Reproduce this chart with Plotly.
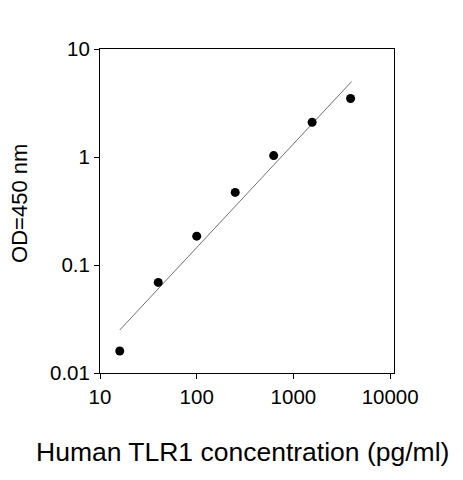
import plotly.graph_objects as go

# standard curve points
conc = [16, 40, 100, 250, 625, 1560, 3900]
od = [0.016, 0.069, 0.185, 0.47, 1.03, 2.1, 3.48]

# fitted line end points (log-log)
fit_x = [16, 4000]
fit_y = [0.025, 5.0]

x_ticks = [10, 100, 1000, 10000]
y_ticks = [0.01, 0.1, 1, 10]

fig = go.Figure()
fig.add_trace(go.Scatter(
	x=fit_x, y=fit_y, mode='lines',
	line={'color': '#707070', 'width': 1},
	showlegend=False))
fig.add_trace(go.Scatter(
	x=conc, y=od, mode='markers',
	marker={'color': 'black', 'size': 9},
	showlegend=False))

axis_font = {'family': 'Liberation Sans, Arial', 'size': 20.5, 'color': 'black'}
fig.update_xaxes(
	type='log', range=[1, 4.04],
	tickvals=x_ticks, ticktext=[str(v) for v in x_ticks],
	ticks='outside', ticklen=5, tickcolor='black',
	showline=True, linecolor='black', linewidth=1, mirror=True,
	showgrid=False, zeroline=False, tickfont=axis_font)
fig.update_yaxes(
	type='log', range=[-2, 1],
	tickvals=y_ticks, ticktext=['0.01', '0.1', '1', '10'],
	ticks='outside', ticklen=5, tickcolor='black',
	showline=True, linecolor='black', linewidth=1, mirror=True,
	showgrid=False, zeroline=False, tickfont=axis_font)

# the page puts the figure 8px in from the corner, so size it to fit
fig.update_layout(
	width=455, height=472,
	margin={'l': 92, 'r': 69, 't': 41, 'b': 107},
	plot_bgcolor='white', paper_bgcolor='white',
	annotations=[
		dict(text='Human TLR1 concentration (pg/ml)', xref='paper', yref='paper',
			x=(242 - 100) / 294, y=-0.244, showarrow=False,
			xanchor='center', yanchor='middle',
			font={'family': 'Liberation Sans, Arial', 'size': 26.5, 'color': 'black'}),
		dict(text='OD=450 nm', xref='paper', yref='paper',
			x=(20 - 100) / 294, y=0.525, showarrow=False, textangle=-90,
			xanchor='center', yanchor='middle',
			font={'family': 'Liberation Sans, Arial', 'size': 22, 'color': 'black'}),
	])

fig.write_html('out.html')
